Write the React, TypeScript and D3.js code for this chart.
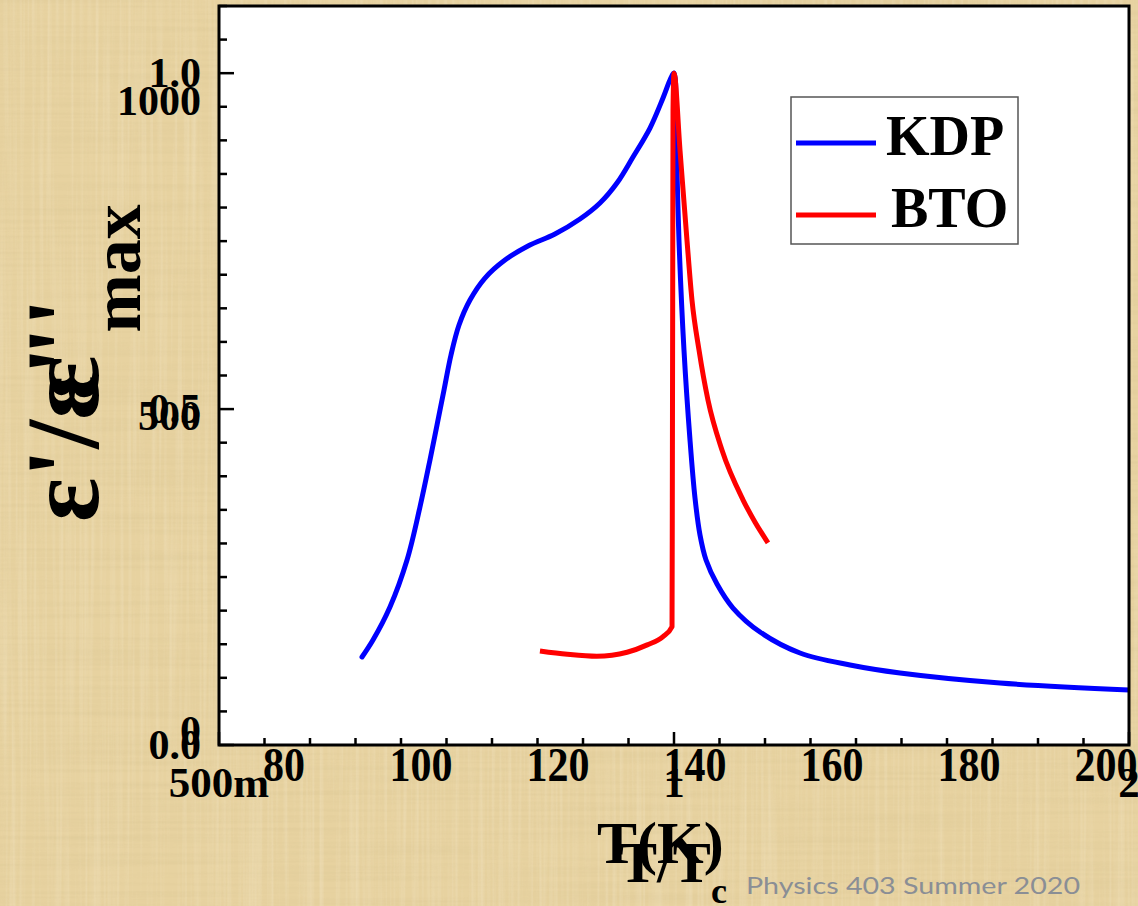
import React from 'react';
import * as d3 from 'd3';

// ---------- data ----------
// KDP: temperature (K) vs dielectric constant ε'
const kdpTemp = [91.39, 92.99, 95.47, 97.96, 99.85, 101.31, 102.34, 103.36, 104.38, 105.55, 107.15, 109.34, 112.26, 115.62, 119.56, 123.21, 126.13, 128.61, 130.95, 133.43, 135.33, 136.35, 136.93, 137.23, 137.66, 138.39, 139.27, 140.0, 140.73, 141.61, 143.21, 145.55, 149.49, 155.33, 162.63, 169.93, 184.53, 203.36];
const kdpEps = [117.5, 144.4, 196.8, 271.4, 355.6, 430.2, 485.7, 541.3, 596.8, 644.4, 684.1, 719.0, 747.6, 769.8, 788.9, 812.7, 838.1, 869.8, 911.1, 957.1, 1004.8, 1033.3, 1044.4, 949.2, 779.4, 604.8, 461.9, 369.8, 311.1, 271.4, 233.3, 195.2, 157.1, 123.8, 104.8, 92.1, 76.2, 65.1];

// BTO: T/Tc vs ε'/ε'max
const btoRatio = [0.8153, 0.850, 0.889, 0.931, 0.960, 0.983, 0.997, 0.9975, 0.998, 0.9985, 1.0, 1.0092, 1.0200, 1.0278, 1.0388, 1.0532, 1.0758, 1.1108, 1.1312, 1.1539];
const btoNorm = [0.140, 0.135, 0.132, 0.138, 0.149, 0.161, 0.176, 0.40, 0.66, 0.945, 1.0, 0.885, 0.751, 0.662, 0.588, 0.513, 0.439, 0.365, 0.332, 0.301];

// tick labels
const kdpXTicks = [80, 100, 120, 140, 160, 180, 200];
const kdpYTicks = [0, 500, 1000];
const btoXTicks = [0.5, 1, 2];
const btoXTickText = ['500m', '1', '2'];
const btoYTicks = [0, 0.5, 1.0];
const btoYTickText = ['0.0', '0.5', '1.0'];

const seriesNames = ['KDP', 'BTO'];
const seriesColors = ['#0000ff', '#ff0000'];

// ---------- layout ----------
const W = 1138;
const H = 906;
const L = 219;
const R = 1129;
const T = 6;
const B = 745;
const SERIF = '"Liberation Serif", "Times New Roman", serif';

export default function App() {
  const xBto = d3.scaleLog().domain([0.5, 2]).range([L, R]);
  const yBto = d3.scaleLinear().domain([0, 1.1]).range([B, T]);
  const xKdp = d3.scaleLinear().domain([80, 200]).range([284, 1106]);
  const yKdp = d3.scaleLinear().domain([0, 1000]).range([731, 101]);

  const kdpLine = d3
    .line<number>()
    .x((_, i) => xKdp(kdpTemp[i]))
    .y((d) => yKdp(d))
    .curve(d3.curveCatmullRom.alpha(0.5));
  const btoLine = d3
    .line<number>()
    .x((_, i) => xBto(btoRatio[i]))
    .y((d) => yBto(d))
    .curve(d3.curveMonotoneX);

  const bottomTicks = d3.range(-10, 11).map((k) => ({ v: Math.pow(2, k / 10), major: k % 10 === 0 }));
  const leftTicks = d3.range(0, 23).map((i) => ({ v: i * 0.05, major: i % 10 === 0 }));

  return (
    <div style={{ width: W, height: H, overflow: 'hidden' }}>
      <style>{`body{margin:0;overflow:hidden}`}</style>
      <svg width={W} height={H} style={{ display: 'block' }}>
        <defs>
          <filter id="paperH" x="0" y="0" width="100%" height="100%">
            <feTurbulence type="fractalNoise" baseFrequency="0.004 0.25" numOctaves="2" seed="4" />
            <feColorMatrix type="matrix" values="0 0 0 0 0.62  0 0 0 0 0.5  0 0 0 0 0.25  1.2 0 0 0 -0.45" />
          </filter>
          <filter id="paperV" x="0" y="0" width="100%" height="100%">
            <feTurbulence type="fractalNoise" baseFrequency="0.25 0.004" numOctaves="2" seed="9" />
            <feColorMatrix type="matrix" values="0 0 0 0 1  0 0 0 0 0.96  0 0 0 0 0.85  1.2 0 0 0 -0.5" />
          </filter>
          <clipPath id="plotClip">
            <rect x={L} y={T} width={R - L} height={B - T} />
          </clipPath>
        </defs>

        {/* parchment background */}
        <rect x={0} y={0} width={W} height={H} fill="#e7d2a0" />
        <rect x={0} y={0} width={W} height={H} filter="url(#paperH)" opacity={0.35} />
        <rect x={0} y={0} width={W} height={H} filter="url(#paperV)" opacity={0.35} />

        {/* plot area */}
        <rect x={L} y={T} width={R - L} height={B - T} fill="#ffffff" />

        {/* curves */}
        <g clipPath="url(#plotClip)">
          <path d={kdpLine(kdpEps) || ''} fill="none" stroke={seriesColors[0]} strokeWidth={5} strokeLinecap="round" strokeLinejoin="round" />
          <path d={btoLine(btoNorm) || ''} fill="none" stroke={seriesColors[1]} strokeWidth={5} strokeLinecap="butt" strokeLinejoin="round" />
        </g>

        {/* frame */}
        <rect x={L} y={T} width={R - L} height={B - T} fill="none" stroke="#000" strokeWidth={3} />

        {/* left ticks */}
        {leftTicks.map((t, i) => (
          <line key={'lt' + i} x1={L} x2={L + (t.major ? 15 : 8)} y1={yBto(t.v)} y2={yBto(t.v)} stroke="#000" strokeWidth={2.5} />
        ))}
        {/* bottom ticks */}
        {bottomTicks.map((t, i) => (
          <line key={'bt' + i} x1={xBto(t.v)} x2={xBto(t.v)} y1={B} y2={B - (t.major ? 13 : 7)} stroke="#000" strokeWidth={2.5} />
        ))}

        {/* y tick labels: BTO */}
        {btoYTicks.map((v, i) => (
          <text key={'byl' + i} x={201} y={yBto(v) + 14} textAnchor="end" fontFamily={SERIF} fontWeight="bold" fontSize={42} fill="#000">
            {btoYTickText[i]}
          </text>
        ))}
        {/* y tick labels: KDP */}
        {kdpYTicks.map((v, i) => (
          <text key={'kyl' + i} x={201} y={yKdp(v) + 14} textAnchor="end" fontFamily={SERIF} fontWeight="bold" fontSize={42} fill="#000">
            {String(v)}
          </text>
        ))}

        {/* x tick labels: KDP */}
        {kdpXTicks.map((v, i) => (
          <text key={'kxl' + i} transform={`translate(${xKdp(v)},781) scale(1,1.18)`} textAnchor="middle" fontFamily={SERIF} fontWeight="bold" fontSize={42} fill="#000">
            {String(v)}
          </text>
        ))}
        {/* x tick labels: BTO */}
        {btoXTicks.map((v, i) => (
          <text key={'bxl' + i} x={xBto(v)} y={797} textAnchor="middle" fontFamily={SERIF} fontWeight="bold" fontSize={43} fill="#000">
            {btoXTickText[i]}
          </text>
        ))}

        {/* x axis titles */}
        <text x={597} y={863} fontFamily={SERIF} fontWeight="bold" fontSize={60} fill="#000">T(K)</text>
        <text x={619} y={882} fontFamily={SERIF} fontWeight="bold" fontSize={57} fill="#000">
          T/T<tspan dy={21} fontSize={36}>c</tspan>
        </text>

        {/* y axis titles */}
        <text transform="translate(98,522) rotate(-90)" fontFamily={SERIF} fontWeight="bold" fontSize={104} fill="#000">
          {"ε'/ε'"}
          <tspan dx={14} dy={42} fontSize={70}>max</tspan>
        </text>
        <text transform="translate(98,400) rotate(-90)" fontFamily={SERIF} fontWeight="bold" fontSize={104} fill="#000">
          {"ε''"}
        </text>

        {/* legend */}
        <rect x={791} y={97} width={227} height={147} fill="#ffffff" stroke="#555" strokeWidth={1.5} />
        {seriesNames.map((name, i) => (
          <g key={'lg' + i}>
            <line x1={796} x2={876} y1={143 + i * 72} y2={143 + i * 72} stroke={seriesColors[i]} strokeWidth={5} />
            <text x={i === 0 ? 886 : 891} y={155 + i * 72} fontFamily={SERIF} fontWeight="bold" fontSize={56} fill="#000">
              {name}
            </text>
          </g>
        ))}

        {/* footer */}
        <text x={746} y={894} fontFamily="Lato, 'Open Sans', sans-serif" fontSize={24} fill="#8a8e95" textLength={334} lengthAdjust="spacingAndGlyphs">
          Physics 403 Summer 2020
        </text>
      </svg>
    </div>
  );
}
